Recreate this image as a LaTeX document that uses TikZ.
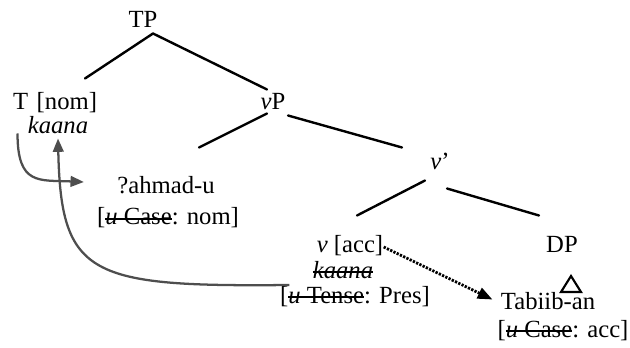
\documentclass[tikz,border=0pt]{standalone}
\usepackage{fontspec}
\setmainfont{Liberation Serif}
\usetikzlibrary{arrows.meta}
\definecolor{movegray}{RGB}{78,78,78}
\newcommand{\strk}[1]{\setbox0\hbox{#1}\rlap{\rule[0.2em]{\wd0}{1.3pt}}\box0}
\tikzset{every picture/.style={line width=0.75pt}}
\tikzset{
  lbl/.style={anchor=base,inner sep=0pt,text height=12pt,text depth=3pt,font=\fontsize{18.5}{21}\selectfont},
  branch/.style={line width=1.8pt,line cap=round},
  move/.style={color=movegray,line width=1.7pt,-{Triangle[length=10pt,width=8pt]}},
  agree/.style={line width=2.1pt,dash pattern={on 1.7pt off 1pt},-{Triangle[length=11pt,width=8.5pt]}}
}

\begin{document}
\begin{tikzpicture}[x=0.75pt,y=0.75pt,yscale=-1,xscale=1]
\useasboundingbox (0,0) rectangle (630,348);
% Text Nodes
\node [lbl] (TP) at (143,28) {TP};
\node [lbl] (T) at (55,110) {T\hspace{0.35em}[nom]};
\node [lbl] (kaanaT) at (58,134) {\textit{kaana}};
\node [lbl] (vP) at (273,110) {\textit{v}P};
\node [lbl] (ahmad) at (166,194) {?ahmad-u};
\node [lbl] (caseNom) at (168,225) {[\strk{\textit{u} Case}: nom]};
\node [lbl] (vbar) at (440,170) {\textit{v}’};
\node [lbl] (vacc) at (350,253) {\textit{v} [acc]};
\node [lbl] (kaanaV) at (343,278) {\strk{\textit{kaana}}};
\node [lbl] (tense) at (355,303) {[\strk{\textit{u} Tense}: Pres]};
\node [lbl] (DP) at (562,253) {DP};
\node [lbl] (tabiib) at (548,310) {Tabiib-an};
\node [lbl] (caseAcc) at (563,337) {[\strk{\textit{u} Case}: acc]};
% Straight Lines
\draw [branch] ([shift={(10,1)}]TP.south) -- ([shift={(30,-15)}]T.north);
\draw [branch] ([shift={(10,1)}]TP.south) -- ([shift={(-6,-4)}]vP.north);
\draw [branch] ([shift={(-6,-1)}]vP.south) -- ([shift={(33,-30)}]ahmad.north);
\draw [branch] ([shift={(15,1)}]vP.south) -- ([shift={(-38,-6)}]vbar.north);
\draw [branch] ([shift={(-15,6)}]vbar.south) -- ([shift={(7,-21)}]vacc.north);
\draw [branch] ([shift={(7,14)}]vbar.south) -- ([shift={(-23,-21)}]DP.north);
%Shape: Triangle
\draw [branch,line width=1.6pt,line join=miter] (571,276) -- (561,292) -- (581,292) -- cycle;
% Curve Lines
\draw [move] ([shift={(5,19)}]T.south west) .. controls +(0,52) and +(-45,-2) .. ([shift={(-33,-6)}]ahmad.west);
\draw [move] ([shift={(-23,13)}]kaanaV.west) .. controls +(-200,2) and +(3,138) .. (kaanaT.south);
% Dotted Line
\draw [agree] (vacc.east) -- ([shift={(-8,6)}]tabiib.north west);
\end{tikzpicture}
\end{document}
